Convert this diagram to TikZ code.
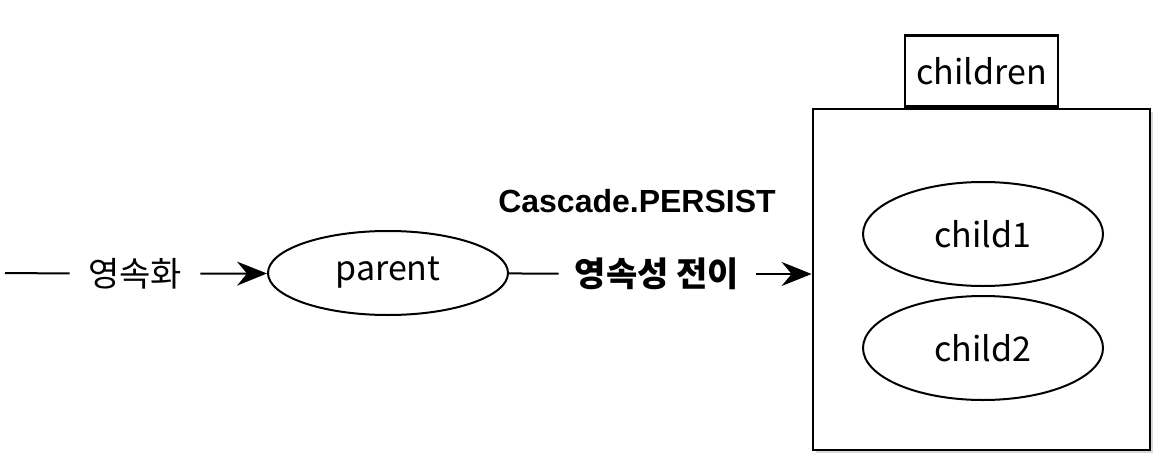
\documentclass[tikz,border=0pt]{standalone}
\usepackage{fontspec}
\setmainfont{Noto Sans CJK KR}
\newfontfamily\latinbold{Liberation Sans}
\usetikzlibrary{arrows.meta,positioning,shadows,shapes.geometric}

\tikzset{
    ent/.style={draw,ellipse,line width=1pt,minimum width=120pt,minimum height=42pt},
    lbl/.style={inner xsep=9pt,font=\fontsize{17}{20}\selectfont},
    conn/.style={line width=1pt},
    flow/.style={line width=1pt,-{Stealth[length=15pt,width=12pt,inset=5pt]}}
}

\begin{document}
\begin{tikzpicture}[x=0.5pt,y=-0.5pt]
        \useasboundingbox (0,0) rectangle (1170,470);
        \coordinate (start) at (5,273);
        \node[lbl] (persist) at (135,274) {영속화};
        \node[ent,font=\fontsize{17}{20}\selectfont] (parent) at (388,273) {parent};
        \node[lbl,font=\bfseries\fontsize{17}{20}\selectfont,inner xsep=8pt] (trans) at (657,274) {영속성 전이};
        \node[font=\latinbold\bfseries\fontsize{16}{19}\selectfont] (cascade) at (637,201) {Cascade.PERSIST};
        \node[draw,fill=white,line width=1.4pt,minimum width=168.5pt,minimum height=170.5pt,
              drop shadow={shadow xshift=1.5pt,shadow yshift=-1.5pt,opacity=0.3}] (box) at (981.5,279.5) {};
        \node[draw,fill=white,line width=1.2pt,minimum width=76.5pt,minimum height=35.5pt,anchor=south,
              font=\fontsize{17}{20}\selectfont] (children) at (box.north) {children};
        \node[ent,minimum width=120pt,minimum height=52pt,font=\fontsize{17}{20}\selectfont] (child1) at (983,234) {child1};
        \node[ent,minimum width=120pt,minimum height=52pt,font=\fontsize{17}{20}\selectfont] (child2) at (983,348) {child2};
        \draw[conn] (start) -- (persist);
        \draw[flow] (persist) -- (parent);
        \draw[conn] (parent) -- (trans);
        \draw[flow] (trans.east) -- (trans.east -| box.west);
\end{tikzpicture}
\end{document}
